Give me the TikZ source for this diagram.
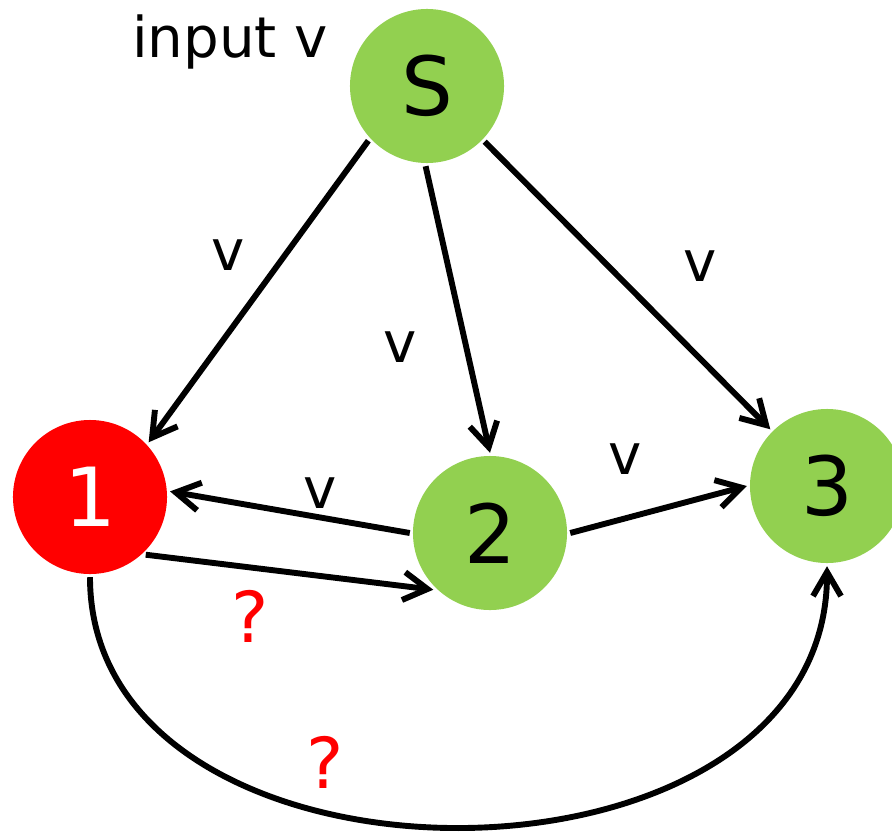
\documentclass[tikz,border=0pt]{standalone}
\usepackage{fontspec}
\setmainfont{DejaVu Sans}
\usetikzlibrary{arrows.meta}
\definecolor{knotgruen}{HTML}{92D050}
\definecolor{knotrot}{HTML}{FF0000}
\tikzset{
  knot/.style={circle, fill=knotgruen, minimum size=3.85cm, inner sep=0pt, outer sep=0.08cm, font=\fontsize{58}{58}\selectfont},
  marke/.style={inner sep=0pt, anchor=base, font=\fontsize{40}{40}\selectfont},
  frage/.style={marke, text=knotrot, font=\fontsize{50}{50}\selectfont},
  pfeil/.style={-{Straight Barb[length=0.6cm, width=0.7cm]}, line width=4.2pt},
}
\begin{document}
\begin{tikzpicture}[x=0.025cm, y=-0.025cm]
    \useasboundingbox (0,0) rectangle (892,835);
    \node[knot] (s) at (427,86) {S};
    \node[knot, fill=knotrot, text=white] (n1) at (90,497) {1};
    \node[knot] (n2) at (490,533) {2};
    \node[knot] (n3) at (827,486) {3};
    \node[marke] (eingabe) at (230,57) {input v};
    % edge labels
    \node[marke] (v1) at (228,270) {v};
    \node[marke] (v2) at (400,362) {v};
    \node[marke] (v3) at (320,508) {v};
    \node[marke] (v4) at (625,474) {v};
    \node[marke] (v5) at (700,281) {v};
    \node[frage] (f1) at (250,642) {?};
    \node[frage] (f2) at (325,788) {?};
    \draw[pfeil] (s.223) -- (n1.43);
    \draw[pfeil] (s.269) -- (n2.90);
    \draw[pfeil] (s.316) -- (n3.135);
    \draw[pfeil] (n2.180) -- (n1.4);
    \draw[pfeil] (n1.314) -- (n2.225);
    \draw[pfeil] (n2.0) -- (n3.180);
    \draw[pfeil] (n1.270) .. controls (90,912) and (827,912) .. (n3.270);
  \end{tikzpicture}
\end{document}
